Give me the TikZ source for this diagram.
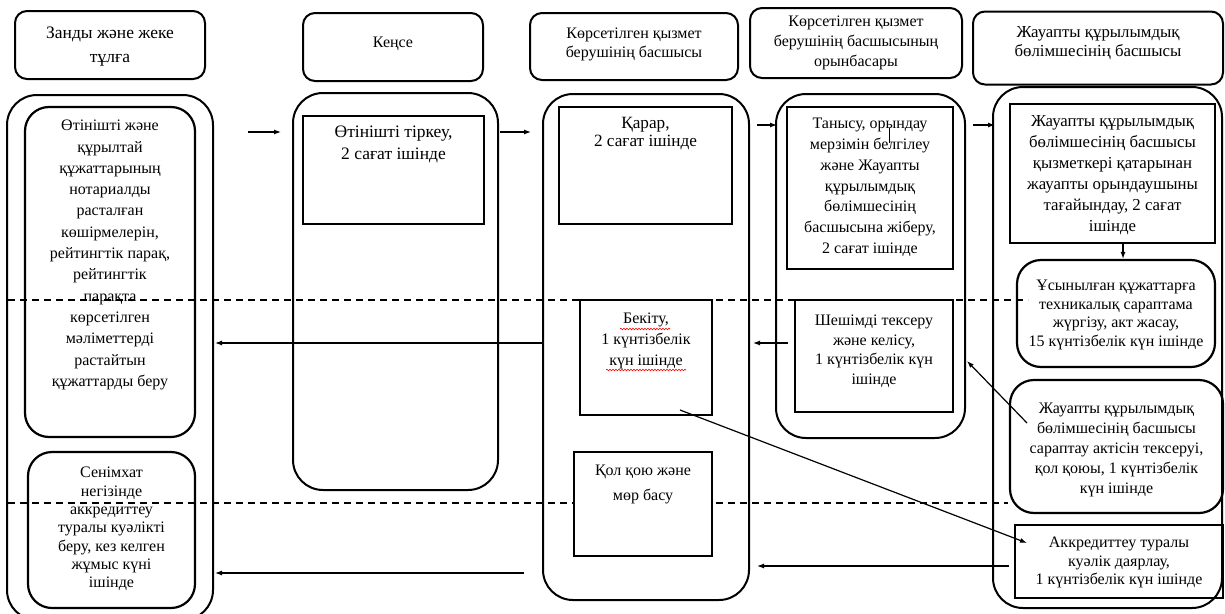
\documentclass[tikz,border=0pt]{standalone}
\usepackage{fontspec}
\setmainfont{Liberation Serif}
\usetikzlibrary{arrows.meta,decorations.pathmorphing}
\begin{document}
\begin{tikzpicture}[x=1pt,y=-1pt,
  hdr/.style={draw, line width=2pt, rounded corners=12pt, inner sep=0pt},
  lane/.style={draw, line width=2pt, rounded corners=30pt, inner sep=0pt},
  rbox/.style={draw, line width=2.2pt, rounded corners=24pt, inner sep=0pt},
  sbox/.style={draw, line width=2.4pt, inner sep=0pt},
  txt/.style={align=center, font=\fontsize{16}{19.5}\selectfont, inner sep=0pt},
  arr/.style={-{Latex[length=7pt,width=5pt]}, line width=1.2pt},
  sepline/.style={line width=1.3pt, dash pattern=on 7pt off 5pt},
  squig/.style={red, line width=0.6pt, decorate, decoration={snake, amplitude=0.8pt, segment length=3pt}}
]
\useasboundingbox (0,0) rectangle (1225,613);

% dashed separators
\coordinate (d1s) at (8,300);
\coordinate (d1e) at (1028,300);
\coordinate (d2s) at (8,503);
\coordinate (d2e) at (1008,503);
\draw[sepline] (d1s) -- (d1e);
\draw[sepline] (d2s) -- (d2e);

% headers
\node[hdr, minimum width=190, minimum height=68] (h1) at (110,45) {};
\node[txt, font=\fontsize{17.5}{24}\selectfont] (h1t) at (110,47) {Занды және жеке\\тұлға};
\node[hdr, minimum width=180, minimum height=68] (h2) at (393,47) {};
\node[txt, anchor=north] (h2t) at (393,37) {Кеңсе};
\node[hdr, minimum width=208, minimum height=67] (h3) at (634,46.5) {};
\node[txt] (h3t) at (634,44.5) {Көрсетілген қызмет\\берушінің басшысы};
\node[hdr, minimum width=212, minimum height=70] (h4) at (856,43) {};
\node[txt, font=\fontsize{16}{20}\selectfont] (h4t) at (856,43) {Көрсетілген қызмет\\берушінің басшысының\\орынбасары};
\node[hdr, minimum width=250, minimum height=73] (h5) at (1098,48) {};
\node[txt, font=\fontsize{16.8}{19.5}\selectfont] (h5t) at (1098,43) {Жауапты құрылымдық\\бөлімшесінің басшысы};

% lanes
\node[lane, minimum width=206, minimum height=525] (L1) at (110,357.5) {};
\node[lane, minimum width=205, minimum height=397] (L2) at (395.5,291.5) {};
\node[lane, minimum width=206, minimum height=506] (L3) at (646,347) {};
\node[lane, minimum width=189, minimum height=344] (L4) at (870.5,266) {};
\node[lane, minimum width=229, minimum height=521] (L5) at (1107.5,347.5) {};

% lane 1
\node[rbox, minimum width=170, minimum height=330] (L1a) at (110,272) {};
\node[txt, anchor=north, font=\fontsize{16}{21.3}\selectfont] (L1at) at (110,120) {Өтінішті және\\құрылтай\\құжаттарының\\нотариалды\\расталған\\көшірмелерін,\\рейтингтік парақ,\\рейтингтік\\парақта\\көрсетілген\\мәліметтерді\\растайтын\\құжаттарды беру};
\node[rbox, minimum width=167, minimum height=156] (L1b) at (111.5,530) {};
\node[txt, anchor=north, font=\fontsize{16}{18.3}\selectfont] (L1bt) at (111.5,467) {Сенімхат\\негізінде\\аккредиттеу\\туралы куәлікті\\беру, кез келген\\жұмыс күні\\ішінде};

% lane 2
\node[sbox, minimum width=181, minimum height=108] (L2a) at (393.5,170) {};
\node[txt, anchor=north, font=\fontsize{17.5}{22}\selectfont] (L2at) at (393.5,126) {Өтінішті тіркеу,\\2 сағат ішінде};

% lane 3
\node[sbox, minimum width=173, minimum height=117] (L3a) at (645.5,165.5) {};
\node[txt, anchor=north, font=\fontsize{17.2}{18.5}\selectfont] (L3at) at (645.5,117) {Қарар,\\2 сағат ішінде};
\node[sbox, minimum width=132, minimum height=115] (L3b) at (646,357.5) {};
\node[txt, anchor=north, font=\fontsize{16}{21}\selectfont] (L3bt) at (646,313) {Бекіту,\\1 күнтізбелік\\күн ішінде};
\node[sbox, fill=white, minimum width=138, minimum height=104] (L3c) at (643,504) {};
\node[txt, anchor=north, font=\fontsize{16}{25}\selectfont] (L3ct) at (643,465) {Қол қою және\\мөр басу};

% lane 4
\node[sbox, minimum width=166, minimum height=162] (L4a) at (870,188) {};
\node[txt, anchor=north, font=\fontsize{16}{20.8}\selectfont] (L4at) at (870,118) {Танысу, орындау\\мерзімін белгілеу\\және Жауапты\\құрылымдық\\бөлімшесінің\\басшысына жіберу,\\2 сағат ішінде};
\node[sbox, minimum width=158, minimum height=112] (L4b) at (874,356) {};
\node[txt, anchor=north] (L4bt) at (874,315) {Шешімді тексеру\\және келісу,\\1 күнтізбелік күн\\ішінде};

% lane 5
\node[sbox, minimum width=205, minimum height=139] (L5a) at (1112.5,173.5) {};
\node[txt, anchor=north, font=\fontsize{16.8}{21}\selectfont] (L5at) at (1112.5,115) {Жауапты құрылымдық\\бөлімшесінің басшысы\\қызметкері қатарынан\\жауапты орындаушыны\\тағайындау, 2 сағат\\ішінде};
\node[rbox, minimum width=198, minimum height=107] (L5b) at (1116,313.5) {};
\node[txt, anchor=north, font=\fontsize{16}{18.5}\selectfont] (L5bt) at (1116,280) {Ұсынылған құжаттарға\\техникалық сараптама\\жүргізу, акт жасау,\\15 күнтізбелік күн ішінде};
\node[rbox, minimum width=213, minimum height=133] (L5c) at (1116.5,446.5) {};
\node[txt, anchor=north, font=\fontsize{16}{20}\selectfont] (L5ct) at (1116.5,403) {Жауапты құрылымдық\\бөлімшесінің басшысы\\сараптау актісін тексеруі,\\қол қоюы, 1 күнтізбелік\\күн ішінде};
\node[sbox, minimum width=208, minimum height=73] (L5d) at (1119,561.5) {};
\node[txt, anchor=north, font=\fontsize{16}{18.3}\selectfont] (L5dt) at (1119,537) {Аккредиттеу туралы\\куәлік даярлау,\\1 күнтізбелік күн ішінде};

% small tick inside L4a
\coordinate (tk1) at (889,128);
\coordinate (tk2) at (889,143);
\draw[line width=1pt] (tk1) -- (tk2);

% spell-check squiggles
\coordinate (sq1s) at (620,329);
\coordinate (sq1e) at (670,329);
\coordinate (sq2s) at (606,370);
\coordinate (sq2e) at (686,370);
\draw[squig] (sq1s) -- (sq1e);
\draw[squig] (sq2s) -- (sq2e);

% arrows
\coordinate (a1s) at (248,132); \coordinate (a1e) at (281,132);
\draw[arr] (a1s) -- (a1e);
\coordinate (a2s) at (500,132); \coordinate (a2e) at (531,132);
\draw[arr] (a2s) -- (a2e);
\coordinate (a3s) at (757,125); \coordinate (a3e) at (777,125);
\draw[arr] (a3s) -- (a3e);
\coordinate (a4s) at (973,125); \coordinate (a4e) at (995,125);
\draw[arr] (a4s) -- (a4e);
\draw[arr] (L5a.south -| 1123,0) -- (L5b.north -| 1123,0);
\coordinate (a6s) at (788,343); \coordinate (a6e) at (753,343);
\draw[arr] (a6s) -- (a6e);
\coordinate (a7s) at (543,343); \coordinate (a7e) at (215,343);
\draw[arr] (a7s) -- (a7e);
\coordinate (a8s) at (1027,423); \coordinate (a8e) at (967,361);
\draw[arr] (a8s) -- (a8e);
\coordinate (a9s) at (680,410); \coordinate (a9e) at (1027,543);
\draw[arr] (a9s) -- (a9e);
\coordinate (a10s) at (1009,566); \coordinate (a10e) at (757,566);
\draw[arr] (a10s) -- (a10e);
\coordinate (a11s) at (524,573); \coordinate (a11e) at (215,573);
\draw[arr] (a11s) -- (a11e);
\end{tikzpicture}
\end{document}
